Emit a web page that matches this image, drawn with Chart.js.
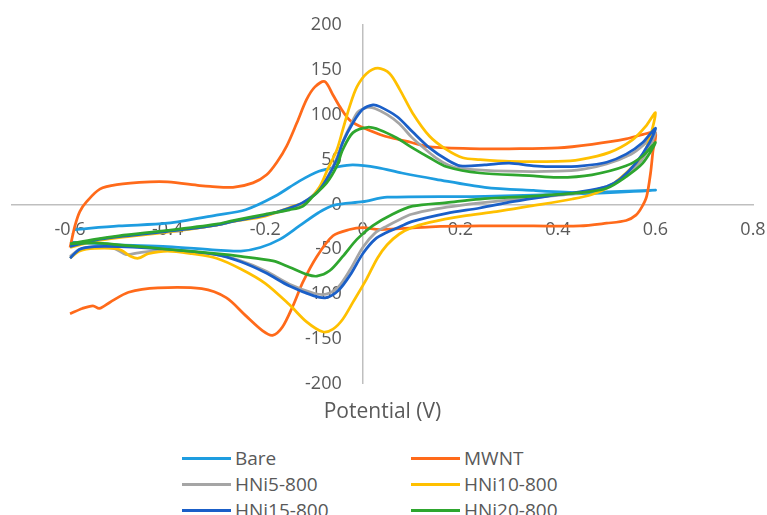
<!DOCTYPE html>
<html>
<head>
<meta charset="utf-8">
<script src="https://cdn.jsdelivr.net/npm/chart.js@4.4.1/dist/chart.umd.min.js"></script>
<style>
  html, body { margin: 0; padding: 0; background: #fff; overflow: hidden; }
  #wrap { position: relative; width: 767px; height: 515px; overflow: hidden; }
  #graficaCV { position: absolute; left: 0; top: 0; }
  .item-leyenda { position: absolute; height: 26px; display: flex; align-items: center;
    font-family: 'Open Sans', sans-serif; font-size: 19px; color: #595959; white-space: nowrap; }
  .item-leyenda span.linea { display: inline-block; width: 49px; height: 3px; margin-right: 4px; }
</style>
</head>
<body>
<div id="wrap">
  <canvas id="graficaCV" width="767" height="430"></canvas>
  <div id="leyenda"></div>
</div>
<script>
const FUENTE = "'Open Sans', sans-serif";
const GRIS_TEXTO = '#595959';

const nombres = ['Bare', 'MWNT', 'HNi5-800', 'HNi10-800', 'HNi15-800', 'HNi20-800'];
const colores = ['#1E9DE0', '#FF6A1A', '#A5A5A5', '#FFC000', '#1A5FC8', '#2EA62E'];

const xTicks = [-0.6, -0.4, -0.2, 0, 0.2, 0.4, 0.6, 0.8];
const yTicks = [-200, -150, -100, -50, 0, 50, 100, 150, 200];

// potencial (V) / corriente, barrido de ida y vuelta
const bareV = [-0.6, -0.5, -0.4, -0.3, -0.25, -0.21, -0.17, -0.13, -0.09, -0.06, 0, 0.05, 0.25, 0.45, 0.6,
  0.5, 0.45, 0.35, 0.25, 0.15, 0.08, 0.03, -0.02, -0.05, -0.09, -0.13, -0.18, -0.24, -0.3, -0.4, -0.5, -0.59];
const bareI = [-42, -45, -47, -51, -52, -48, -39, -24, -9, -1, 3, 8, 9, 12, 16,
  14, 13, 15.5, 19, 28, 35, 41, 44, 42, 37, 26, 9, -6, -12, -21, -24, -28];

const mwntV = [-0.6, -0.575, -0.553, -0.54, -0.518, -0.48, -0.42, -0.33, -0.28, -0.24, -0.205, -0.185, -0.165,
  -0.143, -0.123, -0.094, -0.061, -0.027, 0, 0.035, 0.14, 0.24, 0.35, 0.445, 0.5, 0.54, 0.56, 0.572, 0.582,
  0.59, 0.595, 0.6,
  0.575, 0.54, 0.47, 0.4, 0.3, 0.24, 0.137, 0.1, 0.06, 0.035, -0.006, -0.027, -0.047, -0.061, -0.078, -0.098,
  -0.115, -0.135, -0.156, -0.176, -0.197, -0.225, -0.266, -0.313, -0.334, -0.4, -0.436, -0.504, -0.539,
  -0.566, -0.58, -0.59, -0.6];
const mwntI = [-122, -116, -113, -116, -109, -98, -93, -94, -104, -124, -141, -146, -137,
  -113, -87, -58, -35, -28, -26, -28, -25, -24, -24, -24, -21, -18, -12, -3, 9,
  35, 60, 80,
  78, 73, 67, 63, 62, 62, 64, 69, 74, 78, 87, 94, 109, 122, 137, 131,
  117, 91, 65, 47, 33, 24, 19, 20, 21, 25, 25, 22, 17,
  3, -8, -24, -48];

const hni5V = [-0.6, -0.58, -0.55, -0.51, -0.485, -0.46, -0.4, -0.3, -0.25, -0.2, -0.15, -0.1, -0.075, -0.05,
  -0.025, 0, 0.025, 0.05, 0.075, 0.1, 0.15, 0.2, 0.3, 0.4, 0.45, 0.5, 0.53, 0.56, 0.58, 0.6,
  0.575, 0.55, 0.5, 0.45, 0.4, 0.3, 0.2, 0.175, 0.15, 0.125, 0.1, 0.075, 0.05, 0.025, 0.01, -0.01, -0.025,
  -0.04, -0.053, -0.075, -0.1, -0.125, -0.15, -0.2, -0.266, -0.3, -0.4, -0.5, -0.55, -0.6];
const hni5I = [-58, -50, -47, -49, -56, -54, -51, -56, -63, -74, -89, -99, -100, -92,
  -72, -48, -32, -24, -17, -11, -5, -1, 5, 10, 13, 20, 28, 42, 56, 80,
  66, 56, 45, 39, 37, 37, 40, 44, 52, 63, 75, 90, 100, 107, 108, 103, 88,
  71, 52, 28, 11, 1, -5, -12, -19, -23, -30, -36, -40, -47];

const hni10V = [-0.6, -0.58, -0.55, -0.5, -0.475, -0.46, -0.44, -0.4, -0.35, -0.3, -0.25, -0.2, -0.15, -0.115,
  -0.082, -0.061, -0.041, -0.02, 0.008, 0.03, 0.05, 0.075, 0.1, 0.137, 0.205, 0.274, 0.342, 0.43, 0.47,
  0.506, 0.553, 0.58, 0.6,
  0.58, 0.553, 0.506, 0.445, 0.4, 0.3, 0.24, 0.205, 0.172, 0.137, 0.102, 0.076, 0.055, 0.031, 0.008, -0.012,
  -0.027, -0.041, -0.053, -0.072, -0.088, -0.115, -0.143, -0.2, -0.266, -0.3, -0.4, -0.5, -0.55, -0.6];
const hni10I = [-60, -52, -49, -50, -58, -60, -55, -52, -55, -60, -72, -88, -112, -131,
  -142, -139, -128, -109, -83, -60, -45, -33, -26, -20, -13, -8, -2, 6, 11,
  20, 42, 61, 102,
  87, 72, 58, 50, 48, 48, 50, 52, 61, 76, 102, 128, 146, 152, 146, 131,
  109, 83, 61, 39, 20, 3, -2, -13, -19, -23, -31, -37, -41, -48];

const hni15V = [-0.6, -0.58, -0.55, -0.5, -0.4, -0.3, -0.25, -0.2, -0.15, -0.1, -0.075, -0.05, -0.025, 0,
  0.025, 0.05, 0.076, 0.102, 0.172, 0.24, 0.307, 0.377, 0.445, 0.5, 0.527, 0.56, 0.588, 0.6,
  0.574, 0.54, 0.5, 0.45, 0.4, 0.35, 0.3, 0.25, 0.2, 0.172, 0.137, 0.102, 0.07, 0.035, 0.021, 0, -0.02,
  -0.041, -0.053, -0.074, -0.094, -0.123, -0.15, -0.2, -0.266, -0.3, -0.4, -0.5, -0.55, -0.6];
const hni15I = [-60, -50, -47, -47, -50, -56, -64, -76, -91, -102, -104, -96, -78, -55,
  -39, -31, -25, -19, -10, -4, 3, 9, 14, 20, 28, 46, 69, 85,
  69, 56, 47, 43, 42, 43, 46, 44, 43, 50, 63, 81, 98, 109, 111, 106, 91,
  69, 50, 28, 13, 2, -4, -12, -19, -23, -30, -36, -40, -47];

const hni20V = [-0.6, -0.55, -0.5, -0.4, -0.3, -0.25, -0.184, -0.15, -0.115, -0.094, -0.068, -0.041, -0.012,
  0.02, 0.061, 0.102, 0.172, 0.24, 0.342, 0.445, 0.5, 0.54, 0.574, 0.6,
  0.574, 0.54, 0.47, 0.4, 0.342, 0.24, 0.172, 0.137, 0.102, 0.07, 0.035, 0.01, -0.02, -0.041, -0.053, -0.074,
  -0.102, -0.123, -0.15, -0.2, -0.266, -0.3, -0.4, -0.5, -0.55, -0.6];
const hni20I = [-44, -43, -45, -50, -55, -58, -63, -70, -78, -80, -74, -58, -39,
  -24, -11, -2, 2, 6, 9, 13, 18, 31, 46, 69,
  54, 43, 33, 30, 32, 35, 42, 52, 63, 74, 83, 86, 80, 61, 43, 24,
  9, -2, -6, -11, -18, -22, -29, -35, -39, -44];

const potenciales = [bareV, mwntV, hni5V, hni10V, hni15V, hni20V];
const corrientes = [bareI, mwntI, hni5I, hni10I, hni15I, hni20I];

function armarPuntos(vs, is) {
    return vs.map((v, k) => ({ x: v, y: is[k] }));
}

const datasets = nombres.map((nombre, i) => ({
    label: nombre,
    data: armarPuntos(potenciales[i], corrientes[i]),
    borderColor: colores[i],
    backgroundColor: colores[i],
    borderWidth: 2.75,
    pointRadius: 0,
    showLine: true,
    tension: 0.3,
    fill: false,
    order: nombres.length - 1 - i
}));

// las etiquetas del eje Y cruzado en x=0 no respetan ticks.padding: se separan a mano
const SEPARACION_Y = 21;
const separarEtiquetasY = {
    id: 'separarEtiquetasY',
    beforeDraw(chart) {
        const items = chart.scales.y.getLabelItems();
        if (items._separadas) return;
        items.forEach(it => { it.options.translation[0] -= SEPARACION_Y; });
        items._separadas = true;
    }
};

const ejeComun = {
    grid: { display: false, drawTicks: false, tickLength: 0 },
    border: { display: true, color: '#BFBFBF', width: 1.5 },
};

new Chart(document.getElementById('graficaCV'), {
    type: 'scatter',
    data: { datasets },
    plugins: [separarEtiquetasY],
    options: {
        responsive: false,
        animation: false,
        layout: { padding: { left: 12, right: 14, top: 25, bottom: 0 } },
        plugins: {
            legend: { display: false },
            tooltip: { enabled: false },
            title: {
                display: true,
                text: 'Potential (V)',
                position: 'bottom',
                color: GRIS_TEXTO,
                font: { family: FUENTE, size: 21, weight: 'normal' },
                padding: { top: 16, bottom: 5 }
            }
        },
        scales: {
            x: {
                ...ejeComun,
                type: 'linear',
                min: -0.719,
                max: 0.8,
                position: { y: 0 },
                ticks: {
                    padding: 15,
                    color: GRIS_TEXTO,
                    font: { family: FUENTE, size: 18 },
                    maxRotation: 0,
                    autoSkip: false,
                    callback: (v) => String(Math.round(v * 10) / 10)
                },
                afterBuildTicks: (s) => { s.ticks = xTicks.map(v => ({ value: v })); },
                afterFit: (s) => { s.paddingLeft = 0; s.paddingRight = 0; }
            },
            y: {
                ...ejeComun,
                type: 'linear',
                min: -200,
                max: 200,
                position: { x: 0 },
                ticks: {
                    padding: 0,
                    color: GRIS_TEXTO,
                    font: { family: FUENTE, size: 18 },
                    autoSkip: false,
                    callback: (v) => String(v)
                },
                afterBuildTicks: (s) => { s.ticks = yTicks.map(v => ({ value: v })); },
                afterFit: (s) => { s.paddingTop = 0; s.paddingBottom = 0; }
            }
        }
    }
});

// leyenda en dos columnas, como en el original
const leyenda = document.getElementById('leyenda');
const columnasX = [182, 411];
const filasY = [445, 471, 497];
nombres.forEach((nombre, i) => {
    const item = document.createElement('div');
    item.className = 'item-leyenda';
    item.style.left = columnasX[i % 2] + 'px';
    item.style.top = filasY[Math.floor(i / 2)] + 'px';
    item.innerHTML = `<span class="linea" style="background:${colores[i]}"></span>${nombre}`;
    leyenda.appendChild(item);
});
</script>
</body>
</html>
